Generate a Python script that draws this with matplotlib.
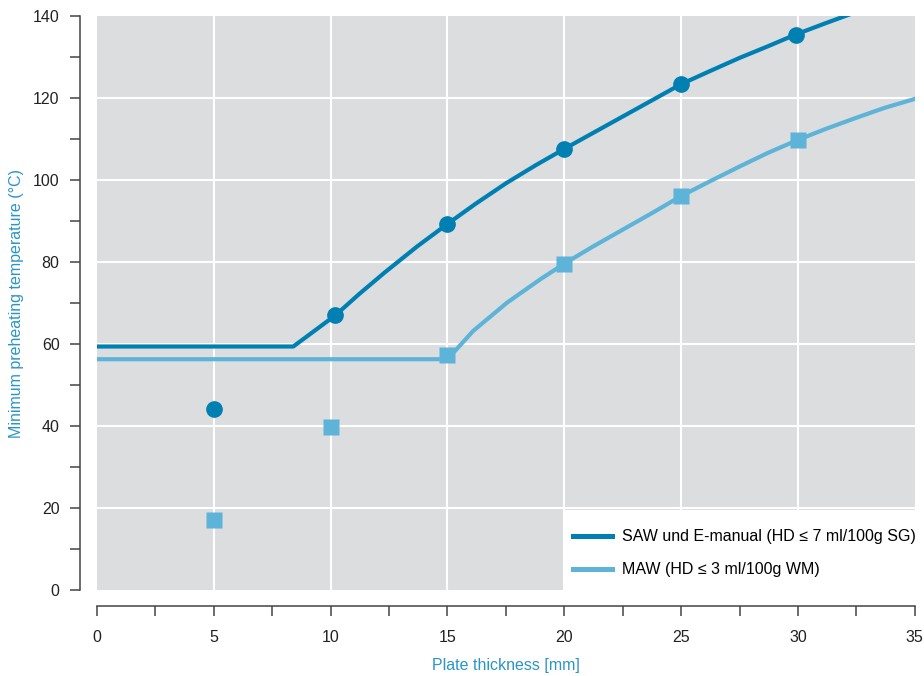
import matplotlib.pyplot as plt
from matplotlib.lines import Line2D
from matplotlib.patches import Rectangle

plt.rcParams['font.family'] = ['Liberation Sans', 'DejaVu Sans']

# measured points (markers)
saw_x = [5, 10.2, 15, 20, 25, 29.9]
saw_y = [44.1, 67.0, 89.3, 107.6, 123.4, 135.5]
maw_x = [5, 10, 15, 20, 25, 30]
maw_y = [17.1, 39.7, 57.3, 79.6, 96.1, 109.8]

# curves
saw_cx = [0, 8.4, 10.2, 11.2, 12.3, 13.7, 15, 16.2, 17.5, 18.8, 20, 21.2, 22.5, 23.8,
          25, 26.2, 27.5, 28.7, 29.9, 31.2, 32.5]
saw_cy = [59.4, 59.4, 67.0, 72.1, 77.4, 83.8, 89.3, 94.2, 99.2, 103.7, 107.6, 111.4, 115.5, 119.6,
          123.4, 126.5, 129.8, 132.6, 135.5, 138.3, 141.0]
maw_cx = [0, 15, 16.1, 17.55, 19.0, 20, 21.2, 22.5, 23.8, 25, 26.2, 27.5, 28.7, 30,
          31.2, 32.5, 33.7, 35]
maw_cy = [56.3, 56.3, 63.2, 70.1, 75.9, 79.6, 83.7, 87.9, 92.1, 96.1, 99.6, 103.3, 106.6, 109.8,
          112.5, 115.2, 117.6, 119.8]

labels = ['SAW und E-manual (HD \u2264 7 ml/100g SG)', 'MAW (HD \u2264 3 ml/100g WM)']

dark = '#0080b2'
light = '#5eb3d8'
txt_blue = '#2a95c5'

fig = plt.figure(figsize=(9.24, 6.76), dpi=100)
ax = fig.add_axes([0.105, 0.1272, 0.885, 0.849])
ax.set_facecolor('#dcdddf')
ax.set_xlim(0, 35)
ax.set_ylim(0, 140)

ax.set_xticks([0, 2.5, 5, 7.5, 10, 12.5, 15, 17.5, 20, 22.5, 25, 27.5, 30, 32.5, 35])
ax.set_xticklabels(['0', '', '5', '', '10', '', '15', '', '20', '', '25', '', '30', '', '35'])
ax.set_yticks(range(0, 141, 20))
ax.set_yticks(range(10, 140, 20), minor=True)
for x in [5, 10, 15, 20, 25, 30]:
    ax.axvline(x, color='white', lw=1.5, zorder=0.5)
for y in [20, 40, 60, 80, 100, 120]:
    ax.axhline(y, color='white', lw=1.5, zorder=0.5)

# white legend box
ax.add_patch(Rectangle((20.05, 0), 14.95, 19.6, facecolor='white', edgecolor='none', zorder=1))

ax.plot(saw_cx, saw_cy, color=dark, lw=3, solid_joinstyle='round', zorder=3)
ax.plot(maw_cx, maw_cy, color=light, lw=3, solid_joinstyle='round', zorder=2)
ax.plot(saw_x, saw_y, 'o', color=dark, ms=11, zorder=4)
ax.plot(maw_x, maw_y, 's', color=light, ms=11, mec='none', zorder=4)

for s in ['top', 'right']:
    ax.spines[s].set_visible(False)
ax.spines['left'].set_position(('outward', 12))
ax.spines['bottom'].set_position(('outward', 11.5))
ax.spines['left'].set_bounds(0, 140)
ax.spines['bottom'].set_bounds(0, 35)
for s in ['left', 'bottom']:
    ax.spines[s].set_color('#444444')
    ax.spines[s].set_linewidth(1.1)
ax.tick_params(which='both', direction='out', length=7, width=1.1, color='#444444',
               labelcolor='#222222', labelsize=11.5)
ax.tick_params(axis='y', pad=8)
ax.tick_params(axis='x', pad=10)

ax.set_xlabel('Plate thickness [mm]', color=txt_blue, fontsize=11.5, labelpad=10)
ax.set_ylabel('Minimum preheating temperature (\u00b0C)', color=txt_blue, fontsize=11.5, labelpad=6)

handles = [Line2D([], [], color=dark, lw=3.6), Line2D([], [], color=light, lw=3.6)]
ax.legend(handles, labels, loc='center left', bbox_to_anchor=(0.582, 0.064), frameon=False,
          borderpad=0, borderaxespad=0, handlelength=2.45, handletextpad=0.6,
          labelspacing=1.12, fontsize=11.5)

fig.savefig('out.png', dpi=100)
